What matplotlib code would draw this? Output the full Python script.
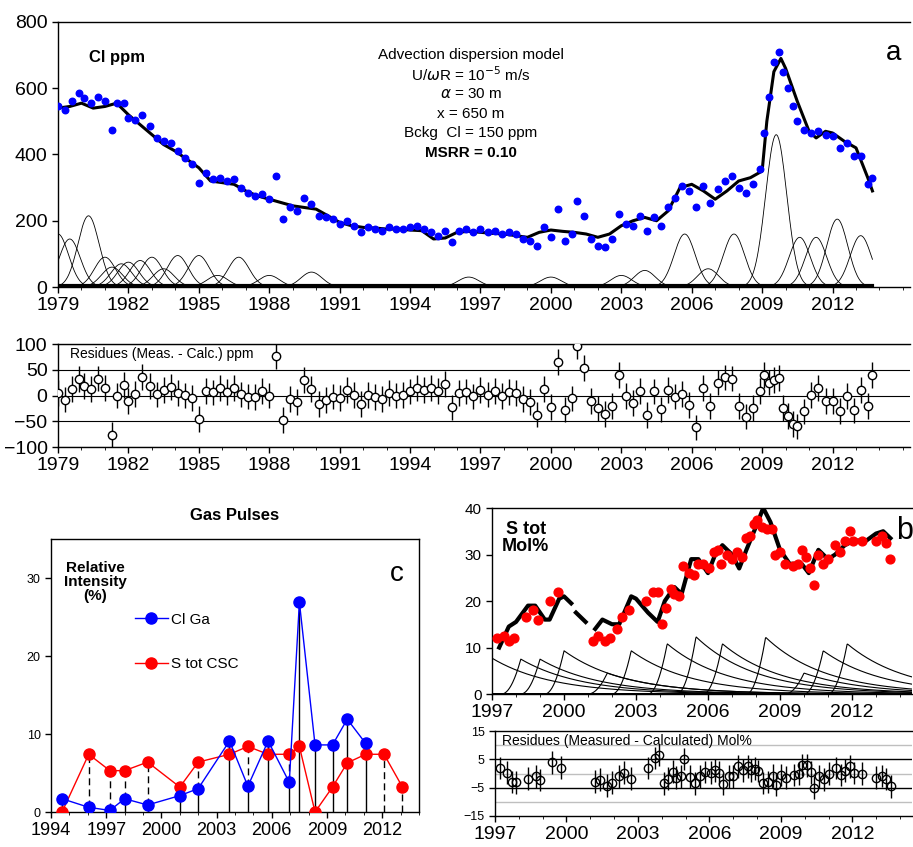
import matplotlib
matplotlib.use("Agg")
import matplotlib.pyplot as plt
from matplotlib.ticker import MultipleLocator, FixedLocator
from matplotlib.lines import Line2D
import numpy as np

plt.rcParams['font.family'] = ['Liberation Sans', 'DejaVu Sans']

# ---------------- panel a : Cl ppm ----------------
cl_year = [1979.0, 1979.3, 1979.6, 1979.9, 1980.1, 1980.4, 1980.7, 1981.0, 1981.3, 1981.5,
           1981.8, 1982.0, 1982.3, 1982.6, 1982.9, 1983.2, 1983.5, 1983.8, 1984.1, 1984.4,
           1984.7, 1985.0, 1985.3, 1985.6, 1985.9, 1986.2, 1986.5, 1986.8, 1987.1, 1987.4,
           1987.7, 1988.0, 1988.3, 1988.6, 1988.9, 1989.2, 1989.5, 1989.8, 1990.1, 1990.4,
           1990.7, 1991.0, 1991.3, 1991.6, 1991.9, 1992.2, 1992.5, 1992.8, 1993.1, 1993.4,
           1993.7, 1994.0, 1994.3, 1994.6, 1994.9, 1995.2, 1995.5, 1995.8, 1996.1, 1996.4,
           1996.7, 1997.0, 1997.3, 1997.6, 1997.9, 1998.2, 1998.5, 1998.8, 1999.1, 1999.4,
           1999.7, 2000.0, 2000.3, 2000.6, 2000.9, 2001.1, 2001.4, 2001.7, 2002.0, 2002.3,
           2002.6, 2002.9, 2003.2, 2003.5, 2003.8, 2004.1, 2004.4, 2004.7, 2005.0, 2005.3,
           2005.6, 2005.9, 2006.2, 2006.5, 2006.8, 2007.1, 2007.4, 2007.7, 2008.0, 2008.3,
           2008.6, 2008.9, 2009.1, 2009.3, 2009.5, 2009.7, 2009.9, 2010.1, 2010.3, 2010.5,
           2010.8, 2011.1, 2011.4, 2011.7, 2012.0, 2012.3, 2012.6, 2012.9, 2013.2, 2013.5, 2013.7]
cl_meas = [545, 535, 560, 585, 570, 555, 575, 560, 475, 555,
           555, 510, 505, 520, 485, 450, 440, 435, 410, 390,
           370, 315, 345, 325, 330, 320, 325, 300, 285, 275,
           280, 265, 335, 205, 240, 230, 270, 250, 215, 210,
           205, 190, 200, 185, 165, 180, 175, 170, 180, 175,
           175, 180, 185, 175, 165, 155, 170, 135, 170, 175,
           165, 175, 165, 170, 160, 165, 160, 145, 140, 125,
           180, 150, 235, 140, 160, 260, 215, 145, 125, 120,
           145, 220, 190, 185, 215, 170, 210, 185, 240, 270,
           305, 290, 240, 305, 255, 295, 320, 335, 300, 285,
           310, 355, 465, 575, 680, 710, 650, 600, 545, 500,
           475, 465, 470, 460, 455, 420, 435, 395, 395, 310, 330]

model_year = [1979, 1979.5, 1980, 1980.5, 1981, 1981.5, 1982, 1982.5, 1983, 1983.5,
              1984, 1984.5, 1985, 1985.5, 1986, 1986.5, 1987, 1987.5, 1988, 1988.5,
              1989, 1989.5, 1990, 1990.5, 1991, 1991.5, 1992, 1992.5, 1993, 1993.5,
              1994, 1994.5, 1995, 1995.5, 1996, 1996.5, 1997, 1997.5, 1998, 1998.5,
              1999, 1999.5, 2000, 2000.5, 2001, 2001.5, 2002, 2002.5, 2003, 2003.5,
              2004, 2004.5, 2005, 2005.5, 2006, 2006.5, 2007, 2007.5, 2008, 2008.5,
              2009, 2009.2, 2009.5, 2009.8, 2010, 2010.5, 2011, 2011.3, 2011.7, 2012,
              2012.5, 2013, 2013.5, 2013.7]
model_cl = [540, 545, 555, 540, 545, 555, 520, 490, 460, 430,
            410, 385, 360, 320, 315, 310, 290, 275, 265, 255,
            245, 240, 235, 215, 195, 185, 180, 178, 175, 175,
            172, 170, 145, 148, 165, 168, 165, 162, 160, 155,
            150, 165, 172, 168, 165, 160, 150, 160, 185, 200,
            210, 200, 230, 300, 310, 290, 265, 290, 320, 330,
            350, 500, 650, 690, 660, 560, 470, 450, 470, 465,
            440, 420, 330, 290]

# gas pulse peaks (year, amplitude)
pulse_a_year = [1979.0, 1979.5, 1980.3, 1981.0, 1981.3, 1981.7, 1982.0, 1982.5, 1983.0, 1983.5,
                1984.1, 1985.0, 1985.8, 1986.7, 1988.0, 1989.8, 1996.5, 2000.0, 2003.0, 2004.0,
                2005.7, 2006.7, 2007.8, 2009.6, 2010.6, 2011.3, 2012.2, 2013.2]
pulse_a_amp = [160, 145, 215, 90, 60, 70, 75, 80, 90, 55,
               95, 95, 35, 90, 35, 45, 30, 30, 35, 50,
               160, 55, 160, 460, 150, 150, 205, 155]

# ---------------- panel b : S tot ----------------
s_year = [1997.2, 1997.5, 1997.7, 1997.9, 1998.4, 1998.7, 1998.9, 1999.4, 1999.75, 2001.2,
          2001.4, 2001.7, 2001.9, 2002.2, 2002.4, 2002.7, 2003.4, 2003.7, 2003.9, 2004.1,
          2004.25, 2004.45, 2004.6, 2004.8, 2004.95, 2005.2, 2005.4, 2005.6, 2005.8, 2006.05,
          2006.25, 2006.4, 2006.55, 2006.8, 2007.0, 2007.2, 2007.4, 2007.6, 2007.75, 2007.9,
          2008.05, 2008.25, 2008.45, 2008.65, 2008.8, 2009.0, 2009.2, 2009.55, 2009.75, 2009.9,
          2010.1, 2010.25, 2010.4, 2010.6, 2010.8, 2011.0, 2011.3, 2011.5, 2011.7, 2011.9,
          2012.05, 2012.4, 2013.0, 2013.25, 2013.4, 2013.6]
s_meas = [12, 12.5, 11.5, 12, 16.5, 18, 16, 20, 22, 11.5,
          12.5, 11.5, 12, 14, 16.5, 18, 20, 22, 22, 15,
          18.5, 22.5, 21.5, 21, 27.5, 26, 25.5, 28, 28, 27,
          30.5, 31, 28, 30, 29, 30.5, 29.5, 33.5, 34, 36.5,
          37.5, 36, 35.5, 35.5, 30, 30.5, 28, 27.5, 28, 31,
          29.5, 27, 23.5, 30, 28, 29, 32, 30.5, 33, 35,
          33, 33, 33, 34, 32.5, 29]
s_model_year = [1997.3, 1997.7, 1998.0, 1998.5, 1998.8, 1999.2, 1999.4, 1999.8, 2000.0, 2000.3,
                2000.4, 2000.5, 2000.9, 2001.0, 2001.3, 2001.6, 2002.0, 2002.3, 2002.8, 2003.0,
                2003.5, 2003.9, 2004.2, 2004.6, 2004.9, 2005.3, 2005.6, 2006.0, 2006.3, 2006.6,
                2007.0, 2007.3, 2007.6, 2008.0, 2008.3, 2008.6, 2009.0, 2009.4, 2009.9, 2010.2,
                2010.6, 2011.0, 2011.3, 2011.7, 2012.1, 2012.6, 2013.0, 2013.3, 2013.6]
s_model = [10, 14.5, 15.5, 19, 19, 16, 16, 20.5, 21, 19.5,
           np.nan, 17.5, 15.5, np.nan, 14, 16, 15, 15, 21, 20.5,
           17.5, 15.5, 20, 23, 21.5, 29, 29, 26, 30, 32,
           30, 27, 31, 36, 40, 37, 31, 28, 28, 26,
           31, 29, 30, 32, 33, 33, 34.5, 35, 33.5]
pulse_b_year = [1996.0, 1998.2, 1999.0, 2000.0, 2001.8, 2002.8, 2004.3, 2005.5, 2006.6, 2008.4,
                2010.0, 2010.8, 2011.8]
pulse_b_amp = [11.5, 7.5, 7.5, 9.3, 4.5, 9.3, 10.8, 12.3, 10.8, 12.2, 4.5, 9.3, 10.8]

# ---------------- panel c : gas pulses ----------------
cl_ga_year = [1994.6, 1996.05, 1997.2, 1998.0, 1999.25, 2001.0, 2002.0, 2003.7, 2004.7, 2005.8,
              2006.95, 2007.5, 2008.35, 2009.3, 2010.1, 2011.1]
cl_ga = [1.7, 0.6, 0.2, 1.7, 0.9, 2.1, 3.0, 9.1, 3.3, 9.1, 3.8, 26.9, 8.6, 8.6, 11.9, 8.8]
s_csc_year = [1994.6, 1996.05, 1997.2, 1998.0, 1999.25, 2001.0, 2002.0, 2003.7, 2004.7, 2005.8,
              2006.95, 2007.5, 2008.35, 2009.3, 2010.1, 2011.1, 2012.1, 2013.1]
s_csc = [0, 7.4, 5.3, 5.3, 6.4, 3.2, 6.4, 7.4, 8.4, 7.4, 7.4, 8.4, 0, 3.2, 6.3, 7.4, 7.4, 3.2]


fig = plt.figure(figsize=(9.13, 8.47), dpi=100)
W, H = 913, 847


def axes_px(x0, y0, x1, y1):
    return fig.add_axes([x0 / W, 1 - y1 / H, (x1 - x0) / W, (y1 - y0) / H])


def style(ax, start, stop, fs=13):
    ax.tick_params(labelsize=fs, length=4, width=1)
    ax.xaxis.set_major_locator(FixedLocator(np.arange(start, stop + 1, 3)))
    ax.xaxis.set_minor_locator(MultipleLocator(1))
    for s in ax.spines.values():
        s.set_linewidth(1)


# ---- panel a
ax = axes_px(58, 22, 910, 287)
style(ax, 1979, 2012, 14)
t = np.linspace(1979, 2013.7, 800)
for yr, amp in zip(pulse_a_year, pulse_a_amp):
    ax.plot(t, amp * np.exp(-0.5 * ((t - yr) / 0.45) ** 2), color='black', lw=0.6)
ax.plot([1979, 2013.7], [2, 2], color='black', lw=3)
ax.plot(model_year, model_cl, color='black', lw=2.2, zorder=3)
ax.scatter(cl_year, cl_meas, s=22, color='blue', zorder=4)
ax.set_xlim(1979, 2015.3)
ax.set_ylim(0, 800)
ax.yaxis.set_major_locator(MultipleLocator(200))
ax.spines['right'].set_visible(False)
ax.text(1981.5, 680, 'Cl ppm', fontsize=12, fontweight='bold', ha='center')
lines = ['Advection dispersion model', r'U/$\omega$R = 10$^{-5}$ m/s', r'$\alpha$ = 30 m',
         'x = 650 m', 'Bckg  Cl = 150 ppm']
for i, s in enumerate(lines):
    ax.text(1996.6, 700 - i * 59, s, fontsize=11, ha='center', va='center')
ax.text(1996.6, 700 - 5 * 59, 'MSRR = 0.10', fontsize=11, ha='center', va='center', fontweight='bold')
ax.text(2014.6, 705, 'a', fontsize=20, ha='center', va='center')

# ---- panel a residues
ax = axes_px(58, 344, 910, 447)
style(ax, 1979, 2012, 14)
res_a = np.array(cl_meas) - np.interp(cl_year, model_year, model_cl)
for lv in [100, 50, 0, -50, -100]:
    ax.axhline(lv, color='black', lw=0.8)
ax.errorbar(cl_year, res_a, yerr=25, fmt='o', mfc='white', mec='black', ms=6,
            ecolor='black', elinewidth=1, zorder=3)
ax.set_xlim(1979, 2015.3)
ax.set_ylim(-100, 100)
ax.yaxis.set_major_locator(MultipleLocator(50))
ax.spines['right'].set_visible(False)
ax.text(1979.5, 80, 'Residues (Meas. - Calc.) ppm', fontsize=10, va='center',
        bbox=dict(facecolor='white', edgecolor='none', pad=1))

# ---- panel c
ax = axes_px(51, 539, 419, 812)
style(ax, 1994, 2012, 13)
for yr, v in zip(s_csc_year, s_csc):
    b = cl_ga[cl_ga_year.index(yr)] if yr in cl_ga_year else 0
    ax.plot([yr, yr], [0, b], color='black', lw=1)
    if v > b:
        ax.plot([yr, yr], [b, v], color='black', lw=1, ls=(0, (5, 3)))
ax.plot(cl_ga_year, cl_ga, '-o', color='blue', ms=8, lw=1, zorder=4)
ax.plot(s_csc_year, s_csc, '-o', color='red', ms=8, lw=1, zorder=3)
ax.set_xlim(1994, 2014)
ax.set_ylim(0, 35)
ax.yaxis.set_major_locator(MultipleLocator(10))
ax.tick_params(axis='y', labelsize=9)
ax.set_title('Gas Pulses', fontsize=12, fontweight='bold', pad=14)
ax.text(1996.4, 29.5, 'Relative\nIntensity\n(%)', fontsize=11, fontweight='bold',
        ha='center', va='center', linespacing=1.0)
ax.text(2012.8, 30.5, 'c', fontsize=20, ha='center', va='center')
handles = [Line2D([], [], color='blue', marker='o', ms=8, lw=1),
           Line2D([], [], color='red', marker='o', ms=8, lw=1)]
ax.legend(handles, ['Cl Ga', 'S tot CSC'], loc='upper left', bbox_to_anchor=(0.19, 0.78),
          frameon=False, fontsize=11, handlelength=2.2, handletextpad=0.2, labelspacing=2.0)

# ---- panel b
ax = axes_px(492, 508, 912, 694)
style(ax, 1997, 2012, 14)
tb = np.linspace(1997, 2015, 900)
for yr, amp in zip(pulse_b_year, pulse_b_amp):
    dt = tb - yr
    curve = np.where(dt > -0.8, amp * np.clip((dt + 0.8) / 0.8, 0, 1) ** 2
                     * np.exp(-np.clip(dt, 0, None) / 2.5), 0)
    ax.plot(tb, curve, color='black', lw=0.8)
ax.plot(s_model_year, s_model, color='black', lw=3, zorder=3)
ax.scatter(s_year, s_meas, s=40, color='red', zorder=4)
ax.set_xlim(1997, 2014.5)
ax.set_ylim(0, 40)
ax.yaxis.set_major_locator(MultipleLocator(10))
ax.tick_params(axis='y', labelsize=11)
ax.spines['right'].set_visible(False)
ax.text(1998.4, 33.5, 'S tot\nMol%', fontsize=13, fontweight='bold', ha='center',
        va='center', linespacing=1.0)
ax.text(2014.2, 35, 'b', fontsize=22, ha='center', va='center')

# ---- panel b residues
ax = axes_px(495, 731, 912, 816)
style(ax, 1997, 2012, 14)
ok = ~np.isnan(s_model)
res_b = np.array(s_meas) - np.interp(s_year, np.array(s_model_year)[ok], np.array(s_model)[ok])
for lv in [10, 0, -10]:
    ax.axhline(lv, color='0.75', lw=1)
for lv in [5, -5]:
    ax.axhline(lv, color='black', lw=1)
ax.errorbar(s_year, res_b, yerr=4, fmt='o', mfc='none', mec='black', ms=6,
            ecolor='black', elinewidth=1, zorder=3)
ax.set_xlim(1997, 2014.5)
ax.set_ylim(-15, 15)
ax.set_yticks([15, 5, -5, -15])
ax.tick_params(axis='y', labelsize=9)
ax.spines['right'].set_visible(False)
ax.text(1997.3, 11.5, 'Residues (Measured - Calculated) Mol%', fontsize=10, va='center')

fig.savefig('out.png', dpi=100)
